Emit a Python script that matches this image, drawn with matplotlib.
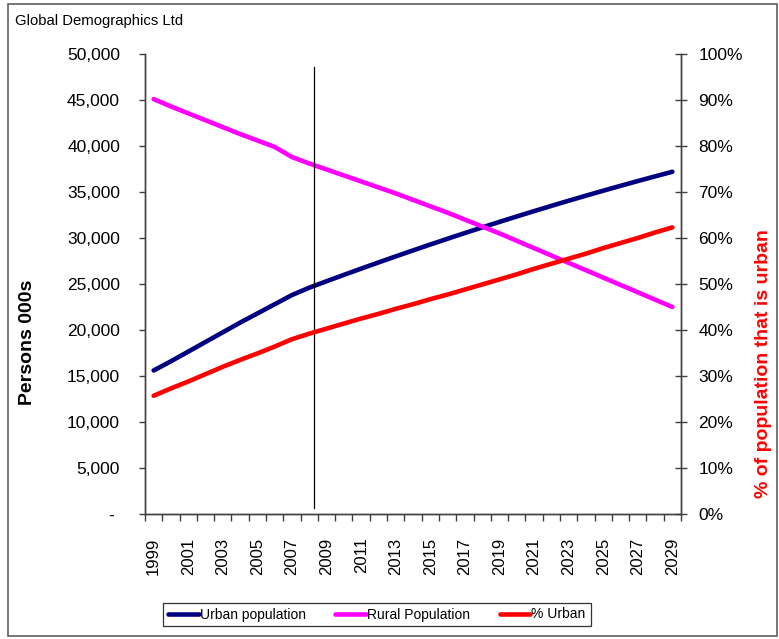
import numpy as np
import matplotlib
matplotlib.use('Agg')
import matplotlib.pyplot as plt
from matplotlib.patches import Rectangle
from matplotlib.ticker import FuncFormatter, MultipleLocator

plt.rcParams['font.family'] = ['Liberation Sans', 'DejaVu Sans']

# values
years = list(range(1999, 2030))
urban = [15600, 16600, 17650, 18700, 19750, 20800, 21800, 22800, 23800, 24600,
         25300, 25990, 26670, 27340, 28000, 28650, 29290, 29920, 30540, 31150,
         31750, 32340, 32920, 33490, 34050, 34600, 35140, 35670, 36190, 36700,
         37200]
rural = [45100, 44300, 43550, 42800, 42050, 41300, 40600, 39900, 38800, 38100,
         37450, 36800, 36150, 35500, 34850, 34150, 33450, 32750, 32000, 31250,
         30500, 29700, 28900, 28100, 27300, 26500, 25700, 24900, 24100, 23300,
         22500]
pct_urban = [25.7, 27.3, 28.8, 30.4, 32.0, 33.5, 34.9, 36.4, 38.0, 39.2,
             40.3, 41.4, 42.5, 43.5, 44.6, 45.6, 46.7, 47.7, 48.8, 49.9,
             51.0, 52.1, 53.3, 54.4, 55.5, 56.6, 57.8, 58.9, 60.0, 61.2,
             62.3]
marker_year = 2008.25

W, H = 779, 639
fig = plt.figure(figsize=(W / 100, H / 100), dpi=100)
ax = fig.add_axes([145 / W, 1 - 514 / H, (681 - 145) / W, 460 / H])
ax2 = ax.twinx()

l1, = ax.plot(years, urban, color='#000080', lw=3.3, solid_capstyle='round',
              label='Urban population')
l2, = ax.plot(years, rural, color='#FF00FF', lw=3.3, solid_capstyle='round',
              label='Rural Population')
l3, = ax2.plot(years, pct_urban, color='#FF0000', lw=3.3, solid_capstyle='round',
               label='% Urban')
ax.axvline(marker_year, ymin=0.013, ymax=0.972, color='black', lw=0.9)

ax.set_xlim(1998.5, 2029.5)
ax.set_ylim(0, 50000)
ax2.set_ylim(0, 100)

axis_col = '#404040'
for a in (ax, ax2):
    a.spines['top'].set_visible(False)
    for s in ('left', 'right', 'bottom'):
        a.spines[s].set_color(axis_col)
        a.spines[s].set_linewidth(1.0)

ax.yaxis.set_major_locator(MultipleLocator(5000))
ax.yaxis.set_major_formatter(FuncFormatter(lambda v, p: '- ' if v == 0 else f'{int(v):,}'))
ax.tick_params(axis='y', direction='out', length=4, width=1, color=axis_col,
               pad=14, labelsize=12.5)

ax2.yaxis.set_major_locator(MultipleLocator(10))
ax2.yaxis.set_major_formatter(FuncFormatter(lambda v, p: f'{int(v)}%'))
ax2.tick_params(axis='y', direction='inout', length=9, width=1, color=axis_col,
                pad=8, labelsize=12.5)

ax.set_xticks(years[::2])
ax.set_xticklabels([str(y) for y in years[::2]], rotation=90)
ax.set_xticks(np.arange(1998.5, 2030, 1), minor=True)
ax.tick_params(axis='x', which='major', length=0, pad=17, labelsize=12)
ax.tick_params(axis='x', which='minor', direction='out', length=5, width=1,
               color=axis_col)

ax.set_ylabel('Persons 000s', fontsize=14, fontweight='bold')
ax.yaxis.set_label_coords((36 - 145) / 536, (514 - 342) / 460)
ax2.set_ylabel('% of population that is urban', fontsize=14, fontweight='bold',
               color='#FF0000', rotation=90)
ax2.yaxis.set_label_coords((755 - 145) / 536, (514 - 364) / 460)

fig.text(15 / W, 1 - 21 / H, 'Global Demographics Ltd', fontsize=10.7,
         va='center', ha='left')

leg = fig.legend(handles=[l1, l2, l3], loc='center', ncol=3,
                 bbox_to_anchor=(377 / W, 1 - 614.5 / H), fontsize=10,
                 frameon=True, fancybox=False, handlelength=2.2,
                 handletextpad=0.1, columnspacing=2.1, borderpad=0.35)
leg.get_frame().set_edgecolor('black')
leg.get_frame().set_linewidth(0.9)

fig.patches.append(Rectangle((8 / W, 3 / H), 769 / W, 632 / H,
                             transform=fig.transFigure, fill=False,
                             edgecolor='#606060', lw=1.2))

fig.savefig('out.png', dpi=100)
